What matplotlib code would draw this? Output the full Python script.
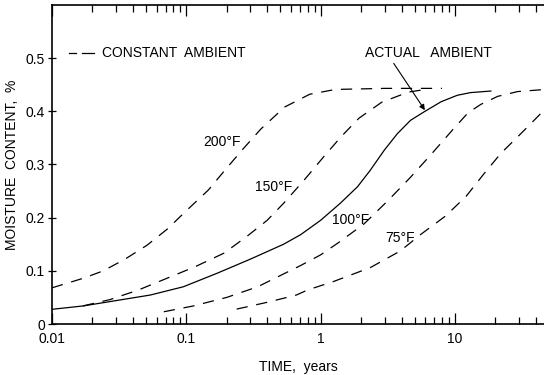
import numpy as np
import matplotlib.pyplot as plt
from matplotlib.ticker import FixedLocator, NullFormatter

plt.rcParams['font.family'] = ['Liberation Sans', 'DejaVu Sans']

# curves (time in years, moisture in %)
t200 = [0.01, 0.0171, 0.0241, 0.035, 0.0509, 0.0718, 0.101, 0.146, 0.192, 0.26, 0.36, 0.54, 0.83, 1.29, 3.0, 8.0]
m200 = [0.068, 0.086, 0.100, 0.122, 0.148, 0.178, 0.214, 0.252, 0.288, 0.327, 0.367, 0.408, 0.432, 0.441, 0.443, 0.443]

t150 = [0.017, 0.0271, 0.044, 0.0718, 0.117, 0.19, 0.28, 0.40, 0.53, 0.75, 1.05, 1.43, 1.93, 2.85, 4.5, 6.0]
m150 = [0.034, 0.046, 0.064, 0.086, 0.108, 0.133, 0.164, 0.195, 0.227, 0.27, 0.314, 0.353, 0.387, 0.417, 0.436, 0.441]

t100 = [0.068, 0.113, 0.20, 0.34, 0.59, 0.71, 1.0, 1.34, 2.1, 3.2, 4.67, 6.6, 9.6, 12.5, 15.6, 20.8, 29.3, 47]
m100 = [0.023, 0.034, 0.050, 0.070, 0.100, 0.110, 0.130, 0.152, 0.188, 0.233, 0.276, 0.318, 0.365, 0.397, 0.413, 0.428, 0.437, 0.441]

t75 = [0.237, 0.42, 0.66, 0.80, 1.25, 2.34, 3.9, 5.6, 8.5, 12.1, 16.5, 22, 29.3, 36.8, 46]
m75 = [0.028, 0.042, 0.0545, 0.064, 0.080, 0.106, 0.137, 0.169, 0.203, 0.24, 0.283, 0.321, 0.352, 0.377, 0.402]

t_act = [0.01, 0.0171, 0.03, 0.054, 0.095, 0.168, 0.30, 0.53, 0.71, 1.0, 1.4, 1.88, 2.34, 2.98, 3.73, 4.67, 5.9, 7.9, 10.4, 13.0, 18.5]
m_act = [0.0276, 0.034, 0.044, 0.0545, 0.070, 0.095, 0.122, 0.150, 0.168, 0.195, 0.227, 0.258, 0.289, 0.327, 0.358, 0.383, 0.399, 0.418, 0.43, 0.435, 0.438]

yticks = [0, 0.1, 0.2, 0.3, 0.4, 0.5]
ylabels = ['0', '0.1', '0.2', '0.3', '0.4', '0.5']
xticks = [0.01, 0.1, 1, 10]
xlabels = ['0.01', '0.1', '1', '10']

fig = plt.figure(figsize=(5.44, 3.75), dpi=100)
ax = fig.add_axes([0.0956, 0.136, 0.9044, 0.851])

dash = (0, (9, 7))
for t, m in [(t200, m200), (t150, m150), (t100, m100), (t75, m75)]:
    ax.plot(t, m, color='black', lw=0.9, linestyle=dash)
ax.plot(t_act, m_act, color='black', lw=0.9)

ax.set_xscale('log')
ax.set_xlim(0.01, 46)
ax.set_ylim(0, 0.6)
ax.spines['right'].set_visible(False)
for s in ['left', 'bottom', 'top']:
    ax.spines[s].set_linewidth(1.2)

ax.xaxis.set_major_locator(FixedLocator(xticks))
ax.set_xticklabels(xlabels)
minor = [k * 10.0 ** e for e in range(-2, 2) for k in range(2, 10)]
ax.xaxis.set_minor_locator(FixedLocator(minor))
ax.xaxis.set_minor_formatter(NullFormatter())
ax.set_yticks(yticks)
ax.set_yticklabels(ylabels)
ax.tick_params(axis='x', which='both', direction='in', top=True, length=5, width=0.9, labelsize=10, pad=6)
ax.tick_params(axis='x', which='major', length=8)
ax.tick_params(axis='y', direction='inout', length=6, width=0.9, labelsize=10, pad=2)

ax.set_xlabel('TIME,  years', fontsize=10, labelpad=10)
ax.set_ylabel('MOISTURE  CONTENT,  %', fontsize=10, labelpad=5)

# legend drawn as in the original: two dashes then the text
ax.plot([0.0133, 0.0152], [0.51, 0.51], color='black', lw=0.9)
ax.plot([0.0168, 0.0205], [0.51, 0.51], color='black', lw=0.9)
ax.text(0.0235, 0.51, 'CONSTANT  AMBIENT', fontsize=10, va='center', ha='left')

ax.text(0.185, 0.342, '200°F', fontsize=10, ha='center', va='center')
ax.text(0.45, 0.257, '150°F', fontsize=10, ha='center', va='center')
ax.text(1.67, 0.196, '100°F', fontsize=10, ha='center', va='center')
ax.text(3.9, 0.162, '75°F', fontsize=10, ha='center', va='center')

ax.text(6.3, 0.509, 'ACTUAL   AMBIENT', fontsize=10, ha='center', va='center')
ax.annotate('', xy=(5.97, 0.402), xytext=(3.5, 0.49),
            arrowprops=dict(arrowstyle='-|>', color='black', lw=0.8,
                            shrinkA=0, shrinkB=0, mutation_scale=8))

fig.savefig('out.png', dpi=100)
